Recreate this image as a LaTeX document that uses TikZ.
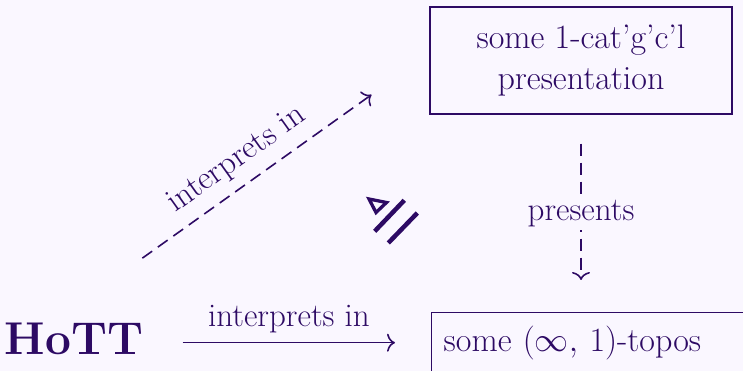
\documentclass[tikz,border=0pt]{standalone}
\usepackage{fix-cm}
\usepackage{fontspec}
\usepackage{tikz}
\usetikzlibrary{arrows.meta}
\definecolor{ink}{RGB}{45, 10, 100}
\definecolor{paper}{RGB}{250, 247, 255}
\tikzset{
    arrow/.style={-{To[length=8pt, width=18pt]}, line width=1.6pt, draw=ink},
    dasharrow/.style={arrow, dash pattern=on 12pt off 7pt},
    box/.style = {
      rectangle,
      draw=ink,
      line width=1.4pt,
      text=ink,
      font=\fontsize{34}{41}\selectfont
    },
    tag/.style = {
      text=ink,
      font=\fontsize{33}{39}\selectfont
    },
}

\begin{document}
\begin{tikzpicture}[x=1pt, y=1pt]
      \useasboundingbox (0,0) rectangle (743,371);
      \fill[paper] (0,0) rectangle (743,371);

      \node [box, minimum width=302pt, minimum height=107pt, align=center] (pres) at (581,310.5)
            {some 1-cat'g'c'l\\presentation};
      \node [box, anchor=north west, text width=306pt, inner xsep=12pt, minimum height=60pt, align=left] (topos) at (431,59)
            {some $(\infty,\,1)$-topos};
      \node [text=ink, font=\fontsize{46}{54}\selectfont\bfseries, anchor=base] (hott) at (74,16) {HoTT};

      \draw [arrow, shorten <=36pt, shorten >=36pt] (hott.east |- topos.west)
            -- node [tag, above=6pt] {interprets in} (topos.west);
      \draw [dasharrow, shorten <=84pt, shorten >=71pt] ([yshift=13pt]hott.north)
            -- node [tag, sloped, above=7pt] {interprets in} ([yshift=7pt]pres.west);
      \draw [dasharrow, shorten <=29pt, shorten >=32pt] (pres.south)
            -- node [tag, fill=paper] {presents} (pres.south |- topos.north);

      % the symbol between the two routes
      \draw [ink, line width=3.3pt] (369,172) -- (386.5,168.5) -- (376,158.5) -- cycle;
      \draw [ink, line width=4.5pt] (404.3,170.7) -- (374.7,139.7) (417.3,158) -- (388.3,128);
\end{tikzpicture}
\end{document}
